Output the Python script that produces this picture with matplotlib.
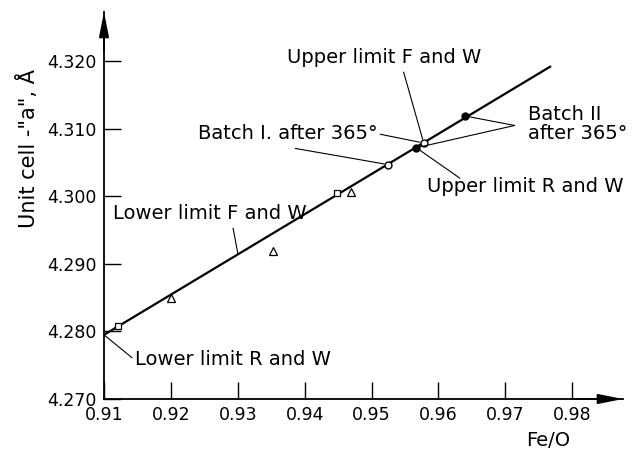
import numpy as np
import matplotlib
matplotlib.use("Agg")
import matplotlib.pyplot as plt

# fitted line (lower limit -> upper limit)
line_x = [0.910, 0.9767]
line_y = [4.2795, 4.3192]

# experimental points
tri_x = [0.920, 0.9353, 0.947]
tri_y = [4.2849, 4.2919, 4.3007]
sq_x = [0.9121, 0.9448]
sq_y = [4.2808, 4.3005]
batch1_x = [0.9525, 0.9578]   # open circles
batch1_y = [4.3047, 4.3079]
batch2_x = [0.9567, 0.9640]   # filled circles
batch2_y = [4.3072, 4.3119]

xticks = [0.91, 0.92, 0.93, 0.94, 0.95, 0.96, 0.97, 0.98]
yticks = [4.270, 4.280, 4.290, 4.300, 4.310, 4.320]

W, H = 637, 451
fig = plt.figure(figsize=(W / 100, H / 100), dpi=100)
ax = fig.add_axes([104 / W, 1 - 399 / H, (623 - 104) / W, (399 - 12) / H])
ax.set_xlim(0.91, 0.9876)
ax.set_ylim(4.270, 4.3273)

for s in ["top", "right"]:
    ax.spines[s].set_visible(False)
for s in ["left", "bottom"]:
    ax.spines[s].set_linewidth(1.3)

ax.set_xticks(xticks)
ax.set_xticklabels([f"{v:.2f}" for v in xticks])
ax.set_yticks(yticks)
ax.set_yticklabels([f"{v:.3f}" for v in yticks])
ax.tick_params(direction="in", length=12, width=1.0, labelsize=12.5, pad=5)

# axis arrows
arr = dict(arrowstyle="-|>,head_length=1.5,head_width=0.3", color="k",
           lw=1.3, mutation_scale=10, shrinkA=0, shrinkB=0)
ax.annotate("", xy=(0, 1), xytext=(0, 0.9), xycoords="axes fraction", arrowprops=arr)
ax.annotate("", xy=(1, 0), xytext=(0.9, 0), xycoords="axes fraction", arrowprops=arr)

ax.plot(line_x, line_y, color="k", lw=1.6, zorder=2)
ax.plot(tri_x, tri_y, "^", ms=5.5, mfc="white", mec="k", mew=0.9, zorder=3)
ax.plot(sq_x, sq_y, "s", ms=5, mfc="white", mec="k", mew=0.9, zorder=3)
ax.plot(batch1_x, batch1_y, "o", ms=5, mfc="white", mec="k", mew=1.0, zorder=3)
ax.plot(batch2_x, batch2_y, "o", ms=5, mfc="k", mec="k", zorder=3)

lead = dict(arrowstyle="-", color="k", lw=0.8, shrinkA=0, shrinkB=3)
fs = 14

# Upper limit F and W
ax.text(0.9374, 4.3206, "Upper limit F and W", fontsize=fs, va="center")
ax.annotate("", xy=(batch1_x[1], batch1_y[1]), xytext=(0.9548, 4.3184), arrowprops=lead)

# Batch I after 365
ax.text(0.9241, 4.3093, "Batch I. after 365°", fontsize=fs, va="center")
ax.annotate("", xy=(batch1_x[1], batch1_y[1]), xytext=(0.9513, 4.3092), arrowprops=lead)
ax.annotate("", xy=(batch1_x[0], batch1_y[0]), xytext=(0.9386, 4.3071), arrowprops=lead)

# Batch II after 365
ax.text(0.9734, 4.3107, "Batch II\nafter 365°", fontsize=fs, va="center",
        linespacing=0.95)
ax.annotate("", xy=(batch2_x[1], batch2_y[1]), xytext=(0.9714, 4.3105), arrowprops=lead)
ax.annotate("", xy=(batch2_x[0], batch2_y[0]), xytext=(0.9714, 4.3105), arrowprops=lead)

# Upper limit R and W
ax.text(0.9583, 4.3014, "Upper limit R and W", fontsize=fs, va="center")
ax.annotate("", xy=(batch2_x[0], batch2_y[0]), xytext=(0.9632, 4.3027), arrowprops=lead)

# Lower limit F and W
ax.text(0.9113, 4.2975, "Lower limit F and W", fontsize=fs, va="center")
ax.annotate("", xy=(0.9300, 4.2916), xytext=(0.9293, 4.2953),
            arrowprops=dict(lead, shrinkB=0))

# Lower limit R and W
ax.text(0.9146, 4.2759, "Lower limit R and W", fontsize=fs, va="center")
ax.annotate("", xy=(line_x[0], line_y[0]), xytext=(0.9142, 4.2761),
            arrowprops=dict(lead, shrinkB=0))

fig.text(28 / W, 1 - 148 / H, 'Unit cell -"a", Å', rotation=90, fontsize=15,
         ha="center", va="center")
fig.text(548 / W, 1 - 440 / H, "Fe/O", fontsize=14, ha="center", va="center")

fig.savefig("out.png", dpi=100)
